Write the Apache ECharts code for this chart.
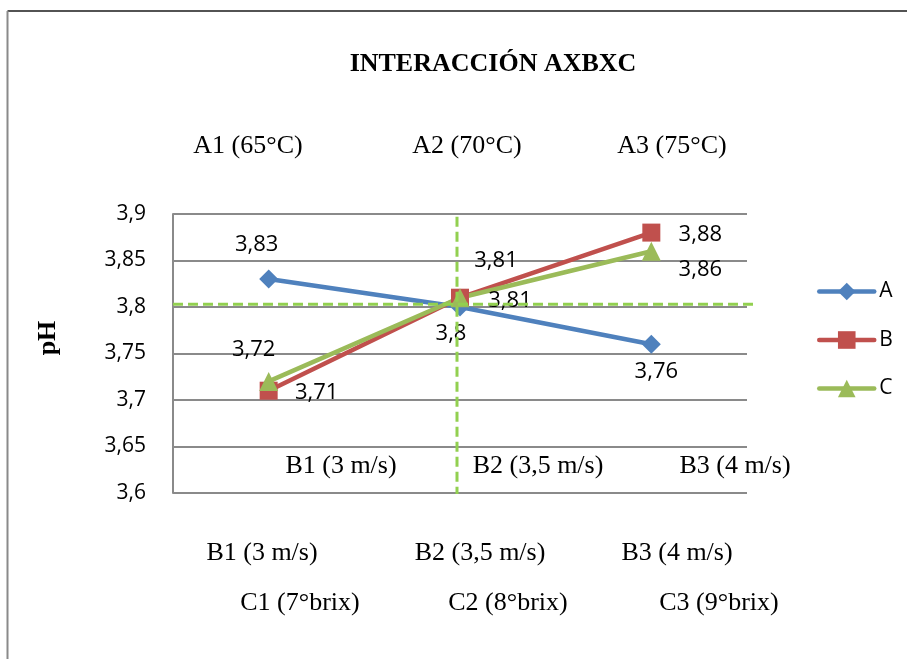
<!DOCTYPE html>
<html>
<head>
<meta charset="utf-8">
<title>Interacción AxBxC</title>
<script src="https://cdn.jsdelivr.net/npm/echarts@6/dist/echarts.min.js"></script>
<style>
  html, body { margin: 0; padding: 0; background: #fff; }
  #chart { width: 907px; height: 659px; }
</style>
</head>
<body>
<div id="chart"></div>
<script>
// ---- data ----
const categories = ['Nivel 1', 'Nivel 2', 'Nivel 3'];
const serieA = [3.83, 3.80, 3.76];
const serieB = [3.71, 3.81, 3.88];
const serieC = [3.72, 3.81, 3.86];
const yMin = 3.6;
const yMax = 3.9;
const yStep = 0.05;
const refValue = 3.803;          // horizontal dashed reference
const refCategory = 'Nivel 2';   // vertical dashed reference

const titleText = 'INTERACCIÓN AXBXC';
const axisName = 'pH';
const rowA = ['A1 (65°C)', 'A2 (70°C)', 'A3 (75°C)'];
const rowBInner = ['B1 (3 m/s)', 'B2 (3,5 m/s)', 'B3 (4 m/s)'];
const rowBOuter = ['B1 (3 m/s)', 'B2 (3,5 m/s)', 'B3 (4 m/s)'];
const rowC = ['C1 (7°brix)', 'C2 (8°brix)', 'C3 (9°brix)'];

// ---- layout / style ----
const colors = { A: '#4F81BD', B: '#C0504D', C: '#9BBB59' };
const refColor = '#92D050';
const serif = '"Liberation Serif", "Times New Roman", serif';
const sans = '"Open Sans", "Noto Sans", sans-serif';
const gridBox = { left: 173, right: 160, top: 214, bottom: 166 };

// label offsets from each point (px)
const labelOffsets = {
  A: [[-12, -34], [-9, 27], [5, 28]],
  B: [[48, 2], [50, 3], [49, 2]],
  C: [[-15, -32], [36, -37], [49, 19]]
};

// row text centres
const rowAPos = { y: 146, x: [248, 467, 672] };
const rowBInnerPos = { y: 466, x: [341, 538, 735] };
const rowBOuterPos = { y: 553, x: [262, 480, 677] };
const rowCPos = { y: 603, x: [300, 508, 719] };

const fmt = v => String(parseFloat(Number(v).toFixed(2))).replace('.', ',');

function buildData(values, offsets) {
  return values.map((v, i) => ({
    value: v,
    label: { offset: offsets[i] }
  }));
}

function makeSeries(name, values, symbol, size) {
  return {
    name: name,
    type: 'line',
    data: buildData(values, labelOffsets[name]),
    symbol: symbol,
    symbolSize: size,
    color: colors[name],
    lineStyle: { width: 4.5, color: colors[name] },
    itemStyle: { color: colors[name] },
    label: {
      show: true,
      position: 'inside',
      align: 'center',
      verticalAlign: 'middle',
      formatter: p => fmt(p.value),
      fontFamily: sans,
      fontSize: 22,
      color: '#000'
    },
    emphasis: { disabled: true },
    z: 3
  };
}

function rowTexts(texts, pos) {
  return texts.map((t, i) => ({
    type: 'text',
    x: pos.x[i],
    y: pos.y,
    style: {
      text: t,
      font: '26px ' + serif,
      fill: '#000',
      textAlign: 'center',
      textVerticalAlign: 'middle'
    },
    silent: true
  }));
}

const chart = echarts.init(document.getElementById('chart'), null, { renderer: 'canvas' });

const option = {
  animation: false,
  backgroundColor: '#fff',
  grid: gridBox,
  legend: {
    orient: 'vertical',
    left: 812,
    top: 276,
    itemWidth: 55,
    itemHeight: 22,
    itemGap: 27.5,
    lineStyle: { width: 4.5, cap: 'round' },
    textStyle: { fontFamily: sans, fontSize: 21, color: '#000' },
    data: ['A', 'B', 'C']
  },
  xAxis: {
    type: 'category',
    data: categories,
    boundaryGap: true,
    axisLine: { show: false },
    axisTick: { show: false },
    axisLabel: { show: false },
    splitLine: { show: false }
  },
  yAxis: {
    type: 'value',
    min: yMin,
    max: yMax,
    interval: yStep,
    axisLine: { show: true, lineStyle: { color: '#8a8a8a', width: 2 } },
    axisTick: { show: false },
    axisLabel: {
      formatter: v => fmt(v),
      fontFamily: sans,
      fontSize: 21,
      color: '#000',
      margin: 27
    },
    splitLine: { show: true, lineStyle: { color: '#8a8a8a', width: 2 } }
  },
  series: [
    makeSeries('A', serieA, 'diamond', 19),
    makeSeries('B', serieB, 'rect', 18),
    makeSeries('C', serieC, 'triangle', 19)
  ]
};

chart.setOption(option);

// reference lines and annotation texts, placed through the axes
const yRef = chart.convertToPixel({ yAxisIndex: 0 }, refValue);
const xRef = chart.convertToPixel({ xAxisIndex: 0 }, refCategory) - 3;
const yTop = chart.convertToPixel({ yAxisIndex: 0 }, 3.897);
const yBottom = chart.convertToPixel({ yAxisIndex: 0 }, yMin) + 1;
const xLeft = gridBox.left;
const xRight = 907 - gridBox.right + 11;

const dashStyle = { stroke: refColor, lineWidth: 3, lineDash: [10, 5] };

chart.setOption({
  graphic: [
    // chart frame
    { type: 'line', shape: { x1: 7.5, y1: 11, x2: 907, y2: 11 }, style: { stroke: '#1a1a1a', lineWidth: 1.5 }, silent: true },
    { type: 'line', shape: { x1: 7.5, y1: 11, x2: 7.5, y2: 659 }, style: { stroke: '#8a8a8a', lineWidth: 2 }, silent: true },
    // dashed references
    { type: 'line', shape: { x1: xLeft, y1: yRef, x2: xRight, y2: yRef }, style: dashStyle, z: 5, silent: true },
    { type: 'line', shape: { x1: xRef, y1: yTop, x2: xRef, y2: yBottom }, style: dashStyle, z: 5, silent: true },
    // title
    {
      type: 'text', x: 493, y: 64,
      style: { text: titleText, font: 'bold 26px ' + serif, fill: '#000', textAlign: 'center', textVerticalAlign: 'middle' },
      silent: true
    },
    // axis name
    {
      type: 'text', x: 48, y: 338, rotation: Math.PI / 2,
      style: { text: axisName, font: 'bold 26px ' + serif, fill: '#000', textAlign: 'center', textVerticalAlign: 'middle' },
      silent: true
    }
  ]
    .concat(rowTexts(rowA, rowAPos))
    .concat(rowTexts(rowBInner, rowBInnerPos))
    .concat(rowTexts(rowBOuter, rowBOuterPos))
    .concat(rowTexts(rowC, rowCPos))
});
</script>
</body>
</html>
